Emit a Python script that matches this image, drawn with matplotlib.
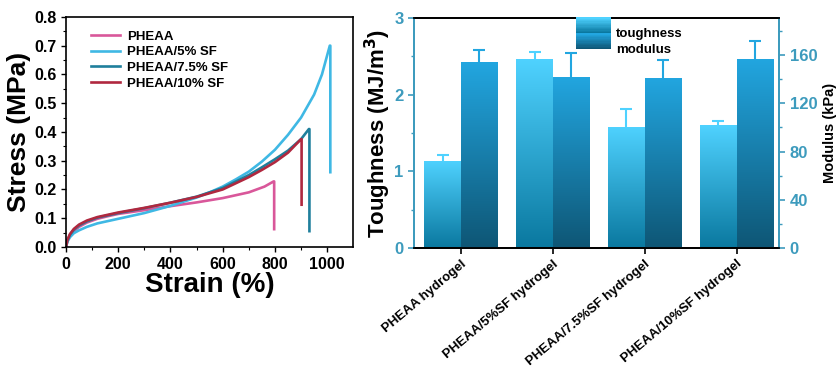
import numpy as np
import matplotlib
matplotlib.use("Agg")
import matplotlib.pyplot as plt
from matplotlib.patches import Rectangle
from matplotlib.legend_handler import HandlerBase
from matplotlib.colors import LinearSegmentedColormap

plt.rcParams['font.family'] = ['Liberation Sans', 'DejaVu Sans']
plt.rcParams['font.weight'] = 'bold'

###################################################################
# stress-strain curves
names = ["PHEAA", "PHEAA/5% SF", "PHEAA/7.5% SF", "PHEAA/10% SF"]
colors = ["#d9579a", "#3fb8e4", "#1f7f9c", "#b0283f"]

strain_pheaa = [0, 5, 15, 30, 50, 80, 120, 160, 200, 300, 400, 500, 600, 700, 760, 795, 797, 797]
stress_pheaa = [0, 0.02, 0.038, 0.055, 0.07, 0.085, 0.098, 0.107, 0.115, 0.128, 0.142, 0.155, 0.17, 0.19, 0.21, 0.228, 0.228, 0.062]

strain_5 = [0, 5, 15, 30, 50, 80, 120, 160, 200, 300, 400, 500, 550, 600, 650, 700, 750, 800, 850,
            900, 950, 980, 1010, 1012, 1012]
stress_5 = [0, 0.018, 0.034, 0.048, 0.058, 0.07, 0.082, 0.09, 0.098, 0.118, 0.143, 0.172, 0.19, 0.21,
            0.235, 0.262, 0.297, 0.338, 0.39, 0.45, 0.53, 0.6, 0.7, 0.7, 0.26]

strain_75 = [0, 5, 15, 30, 50, 80, 120, 160, 200, 300, 400, 500, 600, 700, 750, 800, 850, 900, 930, 932, 932]
stress_75 = [0, 0.022, 0.042, 0.06, 0.075, 0.089, 0.102, 0.11, 0.118, 0.135, 0.154, 0.175, 0.205, 0.25,
             0.277, 0.305, 0.335, 0.375, 0.41, 0.41, 0.055]

strain_10 = [0, 5, 15, 30, 50, 80, 120, 160, 200, 300, 400, 500, 600, 700, 750, 800, 850, 900, 902, 902]
stress_10 = [0, 0.024, 0.045, 0.063, 0.078, 0.092, 0.104, 0.112, 0.12, 0.136, 0.154, 0.174, 0.2, 0.243,
             0.268, 0.295, 0.328, 0.375, 0.375, 0.147]

strains = [strain_pheaa, strain_5, strain_75, strain_10]
stresses = [stress_pheaa, stress_5, stress_75, stress_10]

# bar chart
groups = ["PHEAA hydrogel", "PHEAA/5%SF hydrogel", "PHEAA/7.5%SF hydrogel", "PHEAA/10%SF hydrogel"]
toughness = [1.14, 2.46, 1.58, 1.60]
toughness_err = [0.08, 0.10, 0.23, 0.06]
modulus = [154, 142, 141, 157]
modulus_err = [10, 20, 15, 15]

tough_top, tough_bot = "#4fd2ff", "#0a789f"
mod_top, mod_bot = "#22a6e0", "#0e5675"
teal = "#3d9bbd"
###################################################################

fig = plt.figure(figsize=(8.4, 3.67), dpi=100)

# ---------------- left panel ----------------
ax1 = fig.add_axes([0.0786, 0.327, 0.342, 0.627])
for s, st, c, n in zip(strains, stresses, colors, names):
    ax1.plot(s, st, color=c, lw=1.9, label=n)
ax1.set_xlim(0, 1100)
ax1.set_ylim(0, 0.8)
ax1.set_xticks([0, 200, 400, 600, 800, 1000])
ax1.set_xticks(np.arange(100, 1100, 200), minor=True)
ax1.set_yticks(np.arange(0, 0.81, 0.1))
ax1.set_yticks(np.arange(0.05, 0.8, 0.1), minor=True)
ax1.yaxis.set_major_formatter(plt.FormatStrFormatter('%.1f'))
ax1.tick_params(which='both', direction='out', labelsize=11.5)
ax1.tick_params(which='major', length=3.5, width=1)
ax1.tick_params(which='minor', length=2, width=0.8)
for sp in ax1.spines.values():
    sp.set_linewidth(1.2)
ax1.set_xlabel("Strain (%)", fontsize=20, fontweight='bold', labelpad=0)
ax1.set_ylabel("Stress (MPa)", fontsize=19, fontweight='bold', labelpad=2)
ax1.legend(loc='upper left', frameon=False, fontsize=9.5, handlelength=2.2,
           borderaxespad=0.3, labelspacing=0.25, handletextpad=0.5,
           bbox_to_anchor=(0.055, 0.98))

# ---------------- right panel ----------------
ax2 = fig.add_axes([0.493, 0.324, 0.4345, 0.627])
ax3 = ax2.twinx()

x = np.arange(len(groups))
w = 0.4


def grad_bars(ax, xs, vals, top, bot):
    cmap = LinearSegmentedColormap.from_list("g", [bot, top])
    grad = np.linspace(0, 1, 256).reshape(-1, 1)
    bars = ax.bar(xs, vals, width=w, align='edge', color='none', edgecolor='none', zorder=2)
    for b in bars:
        x0, y0 = b.get_x(), b.get_y()
        im = ax.imshow(grad, cmap=cmap, origin='lower', aspect='auto', zorder=2,
                       extent=[x0, x0 + b.get_width(), y0, y0 + b.get_height()])
        im.set_clip_path(b)
    return bars


def upper_err(ax, xs, vals, errs, col):
    _, caps, _ = ax.errorbar(xs, vals, yerr=[np.zeros(len(vals)), errs], fmt='none',
                             ecolor=col, elinewidth=1.5, capsize=4, capthick=1.5, zorder=1)
    caps[0].remove()


grad_bars(ax2, x - w, toughness, tough_top, tough_bot)
upper_err(ax2, x - w / 2, toughness, toughness_err, tough_top)
grad_bars(ax3, x, modulus, mod_top, mod_bot)
upper_err(ax3, x + w / 2, modulus, modulus_err, mod_top)
ax2.set_xlim(-0.51, 3.46)
ax2.set_ylim(0, 3)
ax3.set_ylim(0, 190.7)

ax2.set_xticks(x)
ax2.set_xticklabels(groups, rotation=40, ha='right', rotation_mode='anchor', fontsize=9.5)
ax2.set_yticks([0, 1, 2, 3])
ax2.set_yticks([0.5, 1.5, 2.5], minor=True)
ax3.set_yticks([0, 40, 80, 120, 160])
ax3.set_yticks([20, 60, 100, 140, 180], minor=True)
ax2.tick_params(axis='y', which='both', colors=teal, labelsize=12)
ax2.tick_params(axis='y', which='major', length=4, width=1.2)
ax2.tick_params(axis='y', which='minor', length=2, width=1)
ax2.tick_params(axis='x', length=4, width=1.2, pad=3)
ax3.tick_params(axis='y', which='both', colors=teal, labelsize=12)
ax3.tick_params(axis='y', which='major', length=4, width=1.2)
ax3.tick_params(axis='y', which='minor', length=2, width=1)

for ax in (ax2, ax3):
    ax.spines['left'].set_color(teal)
    ax.spines['right'].set_color(teal)
    ax.spines['top'].set_color('black')
    ax.spines['bottom'].set_color('black')
    for sp in ax.spines.values():
        sp.set_linewidth(1.3)

ax2.set_ylabel("Toughness (MJ/m$^\\mathbf{3}$)", fontsize=16, fontweight='bold', labelpad=1)
ax3.set_ylabel("Modulus (kPa)", fontsize=10.5, fontweight='bold', labelpad=4)


class GradHandler(HandlerBase):
    def __init__(self, top, bot):
        super().__init__()
        self.top, self.bot = top, bot

    def create_artists(self, legend, orig, xd, yd, width, height, fontsize, trans):
        cmap = LinearSegmentedColormap.from_list("g", [self.bot, self.top])
        n = 12
        arts = []
        for i in range(n):
            r = Rectangle((xd, yd + height * i / n), width, height / n + 0.3,
                          facecolor=cmap(i / (n - 1)), edgecolor='none', transform=trans)
            arts.append(r)
        return arts


h1 = Rectangle((0, 0), 1, 1)
h2 = Rectangle((0, 0), 1, 1)
ax3.legend([h1, h2], ["toughness", "modulus"], loc='upper center',
           handler_map={h1: GradHandler(tough_top, tough_bot), h2: GradHandler(mod_top, mod_bot)},
           frameon=False, fontsize=9.5, handlelength=2.6, handleheight=1.5,
           labelspacing=0.0, handletextpad=0.4, borderaxespad=0.1,
           bbox_to_anchor=(0.59, 1.0))

fig.savefig("out.png", dpi=100)
